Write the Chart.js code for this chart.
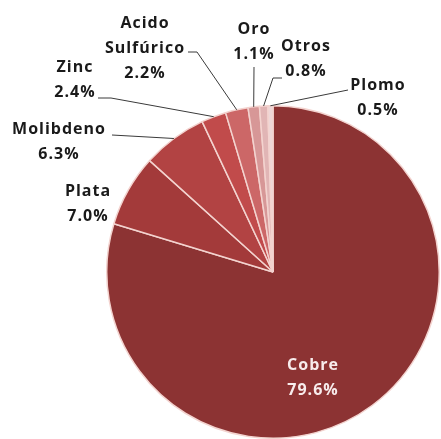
<!DOCTYPE html>
<html>
<head>
<meta charset="utf-8">
<script src="https://cdn.jsdelivr.net/npm/chart.js@4.4.0/dist/chart.umd.min.js"></script>
<style>
  html, body { margin: 0; padding: 0; background: #fff; }
  canvas { display: block; }
</style>
</head>
<body>
<canvas id="chart" width="441" height="439"></canvas>
<script>
// Data
const categories = ["Cobre", "Plata", "Molibdeno", "Zinc", "Acido\nSulfúrico", "Oro", "Otros", "Plomo"];
const shares = [79.6, 7.0, 6.3, 2.4, 2.2, 1.1, 0.8, 0.5];
const sliceColors = ["#8c3333", "#a33a3a", "#b24343", "#c14b4b", "#cc6767", "#d79797", "#e1b5b5", "#eed7d7"];

// Label placement (centre of first text line) and leader line start points
const labelSpots = [
  { x: 313, y: 365, color: "#f8ecec" },
  { x: 88, y: 191 },
  { x: 59, y: 129, from: [[112, 135]] },
  { x: 75, y: 67, from: [[98, 98], [111, 98]] },
  { x: 145, y: 23, from: [[188, 52], [197, 52]] },
  { x: 254, y: 29, from: [[254, 67]] },
  { x: 306, y: 46, from: [[282, 78], [273, 78]] },
  { x: 378, y: 85, from: [[348, 90]] },
];

const labelPlugin = {
  id: "sliceLabels",
  afterDatasetsDraw(chart) {
    const ctx = chart.ctx;
    const meta = chart.getDatasetMeta(0);
    ctx.save();

    // leader lines
    ctx.strokeStyle = "#3a3a3a";
    ctx.lineWidth = 1;
    meta.data.forEach((arc, i) => {
      const spot = labelSpots[i];
      if (!spot.from) return;
      const p = arc.getProps(["x", "y", "startAngle", "endAngle", "outerRadius"], true);
      const mid = (p.startAngle + p.endAngle) / 2;
      const ex = p.x + Math.cos(mid) * p.outerRadius;
      const ey = p.y + Math.sin(mid) * p.outerRadius;
      ctx.beginPath();
      spot.from.forEach((pt, k) => k === 0 ? ctx.moveTo(pt[0], pt[1]) : ctx.lineTo(pt[0], pt[1]));
      ctx.lineTo(ex, ey);
      ctx.stroke();
    });

    // texts
    ctx.font = "bold 16px 'Open Sans'";
    ctx.textAlign = "center";
    ctx.textBaseline = "middle";
    ctx.letterSpacing = "1px";
    categories.forEach((name, i) => {
      const spot = labelSpots[i];
      const lines = name.split("\n").concat(shares[i].toFixed(1) + "%");
      ctx.fillStyle = spot.color || "#1a1a1a";
      lines.forEach((t, k) => ctx.fillText(t, spot.x, spot.y + k * 25));
    });
    ctx.restore();
  }
};

new Chart(document.getElementById("chart"), {
  type: "pie",
  data: {
    labels: categories,
    datasets: [{
      data: shares,
      backgroundColor: sliceColors,
      borderColor: "#f3d3cf",
      borderWidth: 1.5,
    }],
  },
  options: {
    responsive: false,
    devicePixelRatio: 1,
    animation: false,
    layout: { padding: { left: 106, right: 1, top: 105, bottom: 0 } },
    plugins: {
      legend: { display: false },
      tooltip: { enabled: false },
    },
  },
  plugins: [labelPlugin],
});
</script>
</body>
</html>
